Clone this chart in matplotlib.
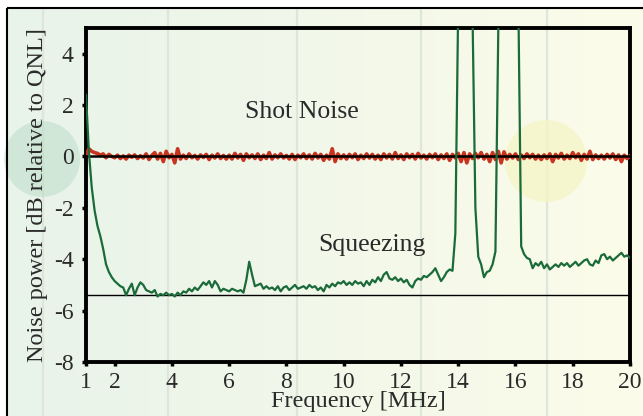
import numpy as np
import matplotlib
matplotlib.use("Agg")
import matplotlib.pyplot as plt
from matplotlib.patches import Rectangle, Circle

plt.rcParams["axes.unicode_minus"] = False

# ---------------- data ----------------
freq_start, freq_stop, n_pts = 1.0, 20.0, 191
freq = np.linspace(freq_start, freq_stop, n_pts)

squeezing = [
    2.4, 0.2, -1.2, -2.1, -2.7, -3.1, -3.6, -4.2, -4.5, -4.7,
    -4.85, -4.95, -5.05, -5.1, -5.4, -5.15, -4.95, -5.4, -5.1, -4.9,
    -5.0, -5.2, -5.25, -5.3, -5.2, -5.45, -5.35, -5.4, -5.3, -5.4,
    -5.35, -5.45, -5.3, -5.4, -5.25, -5.3, -5.15, -5.25, -5.1, -5.2,
    -5.05, -4.9, -5.0, -4.85, -5.1, -4.85, -5.0, -5.25, -5.15, -5.2,
    -5.25, -5.15, -5.2, -5.25, -5.2, -5.3, -4.8, -4.1, -4.6, -5.05,
    -5.0, -4.95, -5.15, -5.05, -5.15, -5.1, -5.2, -5.05, -5.25, -5.1,
    -5.05, -5.2, -5.1, -5.0, -5.15, -5.1, -5.05, -5.15, -5.0, -5.1,
    -5.05, -5.2, -5.1, -5.25, -5.0, -5.1, -4.95, -5.05, -4.9, -4.95,
    -4.85, -5.0, -4.9, -5.0, -4.85, -4.95, -4.9, -5.05, -4.85, -5.0,
    -4.8, -4.9, -4.7, -4.85, -4.6, -4.5, -4.75, -4.8, -4.7, -4.85,
    -4.75, -4.9, -4.8, -5.0, -5.1, -4.85, -4.75, -4.8, -4.65, -4.7,
    -4.6, -4.5, -4.35, -4.6, -4.85, -4.7, -4.5, -4.4, -4.45, -3.0,
    6.0, 12.0, 12.0, 12.0, 10.0, 5.5, -2.0, -3.9, -4.2, -4.7,
    -4.5, -4.45, -4.2, -3.7, 5.2, 12.0, 12.0, 12.0, 12.0, 12.0,
    12.0, 6.0, -3.5, -3.8, -3.95, -4.0, -4.35, -4.15, -4.25, -4.1,
    -4.35, -4.2, -4.4, -4.3, -4.2, -4.3, -4.15, -4.25, -4.15, -4.3,
    -4.2, -4.1, -4.25, -4.15, -4.05, -4.0, -4.2, -4.25, -4.05, -4.15,
    -3.85, -3.8, -4.0, -3.9, -4.05, -3.95, -3.85, -3.75, -3.9, -3.85,
    -3.95,
]

shot_noise = [
    0.05, 0.3, 0.2, 0.15, 0.12, 0.05, 0.1, -0.05, 0.08, 0.0,
    -0.05, 0.05, -0.08, 0.02, -0.1, 0.05, -0.03, 0.06, -0.08, 0.03,
    -0.06, 0.1, -0.12, 0.04, 0.15, -0.1, 0.12, -0.2, 0.2, -0.05,
    0.08, -0.25, 0.3, -0.1, 0.05, -0.08, 0.1, -0.05, 0.04, -0.1,
    0.06, -0.04, 0.08, -0.12, 0.05, -0.06, 0.1, -0.08, 0.04, -0.1,
    0.05, -0.1, 0.12, -0.06, 0.08, -0.15, 0.1, -0.05, 0.06, -0.08,
    0.1, -0.12, 0.05, -0.08, 0.15, -0.1, 0.06, -0.05, 0.1, -0.06,
    0.04, -0.1, 0.08, -0.12, 0.05, -0.05, 0.1, -0.08, 0.06, -0.1,
    0.12, -0.06, 0.08, -0.15, 0.05, -0.1, 0.3, -0.2, 0.1, -0.08,
    0.06, -0.1, 0.08, -0.05, 0.1, -0.12, 0.05, -0.08, 0.1, -0.06,
    0.08, -0.1, 0.05, -0.12, 0.1, -0.06, 0.08, -0.1, 0.15, -0.08,
    0.06, -0.12, 0.1, -0.05, 0.08, -0.1, 0.12, -0.06, 0.05, -0.1,
    0.08, -0.05, 0.1, -0.12, 0.06, -0.08, 0.1, -0.15, 0.08, -0.06,
    0.12, -0.2, 0.15, -0.25, 0.1, -0.08, 0.12, -0.05, 0.15, -0.1,
    0.08, -0.2, 0.15, -0.12, 0.2, -0.25, 0.18, -0.1, 0.08, -0.06,
    0.1, -0.12, 0.06, -0.08, 0.1, -0.05, 0.08, -0.1, 0.05, -0.12,
    0.06, -0.08, 0.1, -0.2, 0.08, -0.06, 0.12, -0.1, 0.05, -0.08,
    0.15, -0.05, 0.1, -0.15, 0.08, -0.1, 0.2, -0.12, 0.06, -0.08,
    0.05, -0.1, 0.08, -0.06, 0.1, -0.12, 0.06, -0.2, 0.05, -0.08,
    0.02,
]

x_ticks = [1, 2, 4, 6, 8, 10, 12, 14, 16, 18, 20]
y_ticks = [-8, -6, -4, -2, 0, 2, 4]
qnl_level = 0.0
squeeze_level = -5.4

assert len(squeezing) == n_pts and len(shot_noise) == n_pts

# ---------------- figure ----------------
W, H, DPI = 643, 416, 100
fig = plt.figure(figsize=(W / DPI, H / DPI), dpi=DPI)
fig.patch.set_facecolor("white")

# background panel (pixel coordinates)
bg = fig.add_axes([0, 0, 1, 1], zorder=0)
bg.set_xlim(0, W)
bg.set_ylim(H, 0)
bg.axis("off")
grad = np.linspace(0, 1, 256)
c_left = np.array([232, 243, 233]) / 255
c_right = np.array([252, 252, 234]) / 255
img = c_left[None, None, :] * (1 - grad[None, :, None]) + c_right[None, None, :] * grad[None, :, None]
bg.imshow(img, extent=[7, W + 5, H + 5, 8], aspect="auto", zorder=0)
for vx in [43, 168, 297, 421, 547]:
    bg.plot([vx, vx], [9, H], color=(0.87, 0.90, 0.86), lw=1.6, zorder=1)
bg.add_patch(Circle((42, 159), 38, color=(0.70, 0.85, 0.76), alpha=0.45, zorder=1, lw=0))
bg.add_patch(Circle((546, 161), 41, color=(0.96, 0.96, 0.78), alpha=0.8, zorder=1, lw=0))
bg.add_patch(Rectangle((7, 8), W, H, fill=False, ec="black", lw=1.5, zorder=2))

# main axes
ax = fig.add_axes([86 / W, 1 - 362 / H, (630 - 86) / W, (362 - 28) / H], zorder=2)
ax.patch.set_alpha(0)

serif = ["Liberation Serif", "DejaVu Serif"]
txt_col = "#2a2a2a"

ax.plot(freq, shot_noise, color="#c8341e", lw=2.6, zorder=3)
ax.axhline(qnl_level, color="black", lw=1.8, zorder=4)
ax.plot(freq, squeezing, color="#1b6b3a", lw=1.6, zorder=5)
ax.axhline(squeeze_level, color="black", lw=1.0, zorder=4)

ax.set_xlim(freq_start, freq_stop)
ax.set_ylim(-8, 5)
ax.set_xticks(x_ticks)
ax.set_yticks(y_ticks)
ax.tick_params(direction="out", length=3, width=2.5, labelsize=17, labelcolor=txt_col)
ax.tick_params(axis="x", pad=4)
ax.tick_params(axis="y", pad=6)
for lab in ax.get_xticklabels() + ax.get_yticklabels():
    lab.set_family(serif)
for s in ax.spines.values():
    s.set_linewidth(2.8)

ax.set_xlabel("Frequency [MHz]", family=serif, fontsize=17.5, labelpad=-1, color=txt_col)
ax.set_ylabel("Noise power [dB relative to QNL]", family=serif, fontsize=17.5, labelpad=4, color=txt_col)

ax.text(8.54, 1.75, "Shot Noise", family=serif, fontsize=18.5, ha="center", va="center", color=txt_col)
ax.text(11.0, -3.45, "Squeezing", family=serif, fontsize=18.5, ha="center", va="center", color=txt_col)

fig.savefig("out.png", dpi=DPI)
